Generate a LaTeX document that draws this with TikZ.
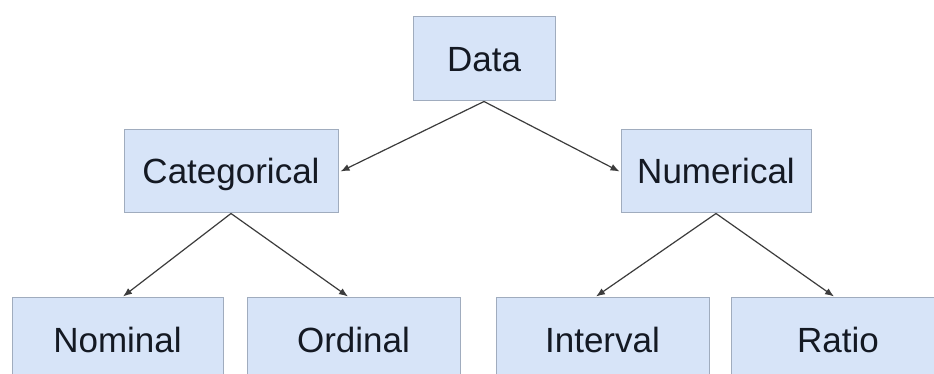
\documentclass[tikz,border=0pt]{standalone}
\usepackage{fontspec}
\setmainfont{Liberation Sans}
\usetikzlibrary{arrows.meta}
\definecolor{boxfill}{RGB}{215,228,248}
\definecolor{boxline}{RGB}{160,172,190}
\definecolor{txt}{RGB}{20,25,35}
\definecolor{arr}{RGB}{60,60,60}
\begin{document}
\begin{tikzpicture}[x=1pt,y=-1pt,
  box/.style={draw=boxline, line width=1pt, fill=boxfill, text=txt, inner sep=0pt,
    text height=30pt, text depth=5pt,
    font=\fontsize{35}{40}\selectfont},
  conn/.style={draw=arr, line width=1.2pt, -{Latex[length=9pt,width=7pt]}}]
\useasboundingbox (0,0) rectangle (934,374);
\clip (0,0) rectangle (934,374);
\fill[white] (0,0) rectangle (934,374);
\node[box, minimum width=142pt, minimum height=84pt] (data) at (484,59) {Data};
\node[box, minimum width=214pt, minimum height=83pt] (cat) at (231,171.5) {Categorical};
\node[box, minimum width=190pt, minimum height=83pt] (num) at (716,171.5) {Numerical};
\node[box, minimum width=211pt, minimum height=86pt] (nom) at (117.5,340) {Nominal};
\node[box, minimum width=213pt, minimum height=86pt] (ord) at (353.5,340) {Ordinal};
\node[box, minimum width=213pt, minimum height=86pt] (int) at (602.5,340) {Interval};
\node[box, minimum width=214pt, minimum height=86pt] (rat) at (838,340) {Ratio};
\draw[conn] (data.south) -- ([xshift=2pt]cat.east);
\draw[conn] (data.south) -- ([xshift=-1pt]num.west);
\draw[conn] (cat.south) -- ([xshift=5.5pt]nom.north);
\draw[conn] (cat.south) -- ([xshift=-5.5pt]ord.north);
\draw[conn] (num.south) -- ([xshift=-6.5pt]int.north);
\draw[conn] (num.south) -- ([xshift=-4pt]rat.north);
\end{tikzpicture}
\end{document}
